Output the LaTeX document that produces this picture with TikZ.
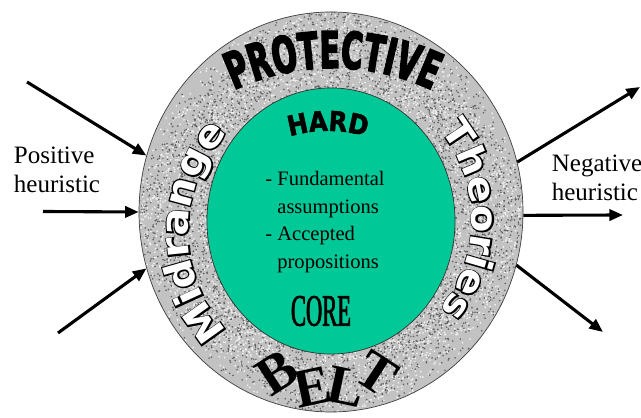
\documentclass[tikz,border=0pt]{standalone}
\usepackage{fontspec}
\setmainfont{Liberation Serif}
\newfontfamily\heavyfont{DejaVu Sans Bold}[FakeStretch=0.58,FakeBold=3]
\newfontfamily\hardfont{DejaVu Sans Bold}[FakeStretch=0.88,FakeBold=2]
\newfontfamily\roundfont{DejaVu Sans Bold}[FakeStretch=1.08]
\newfontfamily\roundedge{DejaVu Sans Bold}[FakeStretch=1.08,FakeBold=7]
\newfontfamily\beltfont{Liberation Serif Bold}
\newfontfamily\corefont{Liberation Serif}[FakeStretch=0.5,FakeBold=1.5]
\usetikzlibrary{shapes.geometric, arrows.meta, decorations.text}
\definecolor{coregreen}{RGB}{0,200,150}

\begin{document}
\begin{tikzpicture}[
        x=0.025cm, y=0.025cm,
        arr/.style={-{Triangle[length=3.4mm, width=2.8mm]}, line width=2.2pt},
        heur/.style={align=left, font=\fontsize{17.8}{20.6}\selectfont},
        beltring/.style={ellipse, inner sep=0pt, fill=gray!48},
        corenode/.style={ellipse, inner sep=0pt, draw=black!80, line width=0.5pt, fill=coregreen},
        grain/.style={fill=#1},
        beltletter/.style={inner sep=0pt, font=\beltfont\fontsize{39}{39}\selectfont},
    ]
    \useasboundingbox (0,0) rectangle (641,418);

    %% ---- Protective belt (speckled ring) ----
    \node[beltring, minimum width=9.6cm, minimum height=10cm] (belt) at (331,206) {};
    \begin{scope}
        \clip (331,206) ellipse [x radius=192, y radius=200];
        \pgfmathsetseed{42}
        \foreach \i in {1,...,3600} {
            \fill[grain=black!62] (331,206) ++({rnd*360}:{192*(0.6+0.4*rnd)} and {200*(0.6+0.4*rnd)}) circle (0.9);
            \fill[grain=gray!12] (331,206) ++({rnd*360}:{192*(0.6+0.4*rnd)} and {200*(0.6+0.4*rnd)}) circle (1);
        }
    \end{scope}
    \draw[black!75, line width=0.5pt] (331,206) ellipse [x radius=192, y radius=200];

    %% ---- Hard core ----
    \node[corenode, minimum width=6.2cm, minimum height=6.65cm] (core) at (331,197) {};

    % arched word at the top of the ring
    \path[decorate, decoration={text along path, text align=center,
        text={|\heavyfont\fontsize{36}{36}\selectfont|PROTECTIVE}}]
        (333,118) ++(125:232) arc[start angle=125, end angle=55, radius=232];

    % fanned letters at the bottom of the ring
    \node[beltletter, rotate=33]  (belt-b) at (277,45) {B};
    \node[beltletter, rotate=12]  (belt-e) at (313,31) {E};
    \node[beltletter, rotate=-12] (belt-l) at (346,31) {L};
    \node[beltletter, rotate=-33] (belt-t) at (377,45) {T};

    % white words with a black rim: rim first, then the white letters
    \path[decorate, decoration={text along path, text align=center,
        text={|\roundedge\fontsize{27}{27}\selectfont\color{black}|Midrange}}]
        (331,186) ++(240:143) arc[start angle=240, end angle=120, radius=143];
    \path[decorate, decoration={text along path, text align=center,
        text={|\roundfont\fontsize{27}{27}\selectfont\color{white}|Midrange}}]
        (331,186) ++(240:143) arc[start angle=240, end angle=120, radius=143];
    \path[decorate, decoration={text along path, text align=center,
        text={|\roundedge\fontsize{26.3}{27}\selectfont\color{black}|Theories}}]
        (331,198) ++(60:141) arc[start angle=60, end angle=-60, radius=141];
    \path[decorate, decoration={text along path, text align=center,
        text={|\roundfont\fontsize{26.3}{27}\selectfont\color{white}|Theories}}]
        (331,198) ++(60:141) arc[start angle=60, end angle=-60, radius=141];

    % words inside the core
    \path[decorate, decoration={text along path, text align=center,
        text={|\hardfont\fontsize{19.5}{20}\selectfont|HARD}}]
        (328,151) ++(120:136) arc[start angle=120, end angle=60, radius=136];
    \node[align=left, font=\fontsize{14.6}{19.6}\selectfont] (assume) at (325,196)
        {- Fundamental\\\phantom{- }assumptions\\- Accepted\\\phantom{- }propositions};
    \node[font=\corefont\fontsize{32}{32}\selectfont] (corelabel) at (321,107) {CORE};

    %% ---- Positive heuristic (arrows in) ----
    \node[heur] (positive) at (57,248) {Positive\\heuristic};
    \coordinate (in1) at (27,336);
    \coordinate (in2) at (43,206.5);
    \coordinate (in3) at (58,85);
    \draw[arr] (in1) -- (belt.163);
    \draw[arr] (in2) -- (belt.180);
    \draw[arr] (in3) -- (belt.197);

    %% ---- Negative heuristic (arrows out) ----
    \node[heur] (negative) at (597,240) {Negative\\heuristic};
    \coordinate (out1) at (640,331);
    \coordinate (out2) at (623,203);
    \coordinate (out3) at (603,86);
    \draw[arr] (belt.15.5) -- (out1);
    \draw[arr] (belt.359) -- (out2);
    \draw[arr] (belt.344) -- (out3);

\end{tikzpicture}
\end{document}
